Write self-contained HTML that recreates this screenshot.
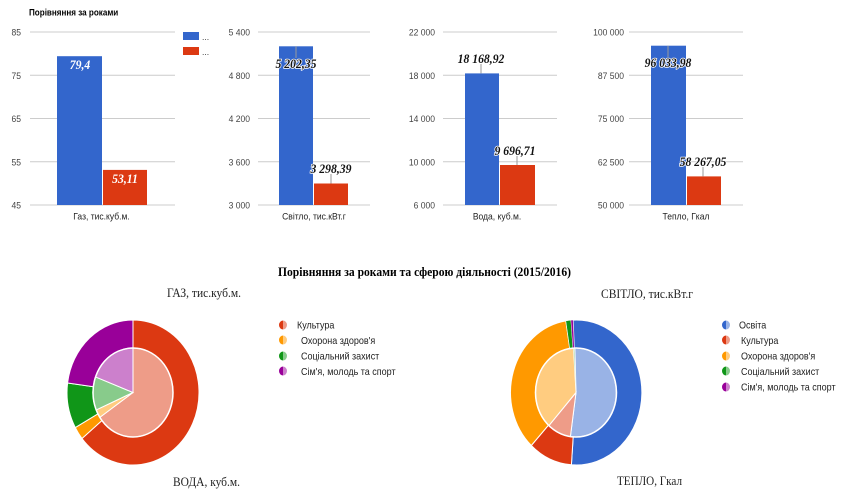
<!DOCTYPE html>
<html><head><meta charset="utf-8"><style>
html,body{margin:0;padding:0;background:#fff;}
svg{display:block;}
.ax{font-family:"Liberation Sans",Arial,sans-serif;font-size:9.5px;fill:#444;}
.xl{font-family:"Liberation Sans",Arial,sans-serif;font-size:9.5px;fill:#222;}
.dl{font-family:"Liberation Serif","Times New Roman",serif;font-size:13px;font-weight:bold;font-style:italic;}
.dk{fill:#111;stroke:#fff;stroke-width:1.6px;paint-order:stroke;}
.wh{fill:#fff;}
.lg{font-family:"Liberation Sans",Arial,sans-serif;font-size:10px;fill:#222;}
.tt{font-family:"Liberation Serif","Times New Roman",serif;fill:#222;}
</style></head><body>
<svg width="848" height="500" viewBox="0 0 848 500" xmlns="http://www.w3.org/2000/svg">
<rect width="848" height="500" fill="#fff"/>

<text transform="translate(29,15.5) scale(0.9,1)" style="font-family:'Liberation Sans',Arial,sans-serif;font-size:9px;font-weight:bold;fill:#000">Порівняння за роками</text>

<rect x="183" y="32" width="16" height="8" fill="#3366cc"/>
<rect x="183" y="47" width="16" height="8" fill="#dc3912"/>
<text class="ax" transform="translate(202,40) scale(0.9,1)">...</text>
<text class="ax" transform="translate(202,55) scale(0.9,1)">...</text>

<g stroke="#cccccc" stroke-width="1">
<line x1="30" x2="175" y1="32" y2="32"/><line x1="30" x2="175" y1="75.25" y2="75.25"/><line x1="30" x2="175" y1="118.5" y2="118.5"/><line x1="30" x2="175" y1="161.75" y2="161.75"/><line x1="30" x2="175" y1="205" y2="205"/>
<line x1="258" x2="370" y1="32" y2="32"/><line x1="258" x2="370" y1="75.25" y2="75.25"/><line x1="258" x2="370" y1="118.5" y2="118.5"/><line x1="258" x2="370" y1="161.75" y2="161.75"/><line x1="258" x2="370" y1="205" y2="205"/>
<line x1="443" x2="557" y1="32" y2="32"/><line x1="443" x2="557" y1="75.25" y2="75.25"/><line x1="443" x2="557" y1="118.5" y2="118.5"/><line x1="443" x2="557" y1="161.75" y2="161.75"/><line x1="443" x2="557" y1="205" y2="205"/>
<line x1="629" x2="743" y1="32" y2="32"/><line x1="629" x2="743" y1="75.25" y2="75.25"/><line x1="629" x2="743" y1="118.5" y2="118.5"/><line x1="629" x2="743" y1="161.75" y2="161.75"/><line x1="629" x2="743" y1="205" y2="205"/>
</g>

<g class="ax" text-anchor="end">
<text transform="translate(21,35.5) scale(0.9,1)">85</text>
<text transform="translate(21,78.75) scale(0.9,1)">75</text>
<text transform="translate(21,122) scale(0.9,1)">65</text>
<text transform="translate(21,165.25) scale(0.9,1)">55</text>
<text transform="translate(21,208.5) scale(0.9,1)">45</text>
<text transform="translate(250,35.5) scale(0.9,1)">5 400</text>
<text transform="translate(250,78.75) scale(0.9,1)">4 800</text>
<text transform="translate(250,122) scale(0.9,1)">4 200</text>
<text transform="translate(250,165.25) scale(0.9,1)">3 600</text>
<text transform="translate(250,208.5) scale(0.9,1)">3 000</text>
<text transform="translate(435,35.5) scale(0.9,1)">22 000</text>
<text transform="translate(435,78.75) scale(0.9,1)">18 000</text>
<text transform="translate(435,122) scale(0.9,1)">14 000</text>
<text transform="translate(435,165.25) scale(0.9,1)">10 000</text>
<text transform="translate(435,208.5) scale(0.9,1)">6 000</text>
<text transform="translate(624,35.5) scale(0.9,1)">100 000</text>
<text transform="translate(624,78.75) scale(0.9,1)">87 500</text>
<text transform="translate(624,122) scale(0.9,1)">75 000</text>
<text transform="translate(624,165.25) scale(0.9,1)">62 500</text>
<text transform="translate(624,208.5) scale(0.9,1)">50 000</text>
</g>

<rect x="57" y="56.2" width="45" height="148.8" fill="#3366cc"/>
<rect x="103" y="169.9" width="44" height="35.1" fill="#dc3912"/>
<rect x="279" y="46.3" width="34" height="158.7" fill="#3366cc"/>
<rect x="314" y="183.5" width="34" height="21.5" fill="#dc3912"/>
<rect x="465" y="73.4" width="34" height="131.6" fill="#3366cc"/>
<rect x="500" y="165" width="35" height="40" fill="#dc3912"/>
<rect x="651" y="45.7" width="35" height="159.3" fill="#3366cc"/>
<rect x="687" y="176.4" width="34" height="28.6" fill="#dc3912"/>

<g stroke="#9a9a9a" stroke-width="1">
<line x1="296" x2="296" y1="46.3" y2="58"/>
<line x1="331" x2="331" y1="183.5" y2="174"/>
<line x1="481" x2="481" y1="73.4" y2="64"/>
<line x1="517" x2="517" y1="165" y2="156"/>
<line x1="668" x2="668" y1="45.7" y2="57"/>
<line x1="703" x2="703" y1="176.4" y2="167"/>
</g>

<g class="dl" text-anchor="middle">
<text class="wh" transform="translate(80,69) scale(0.9,1)">79,4</text>
<text class="wh" transform="translate(125,183) scale(0.9,1)">53,11</text>
<text class="dk" transform="translate(296,68) scale(0.9,1)">5 202,35</text>
<text class="dk" transform="translate(331,173) scale(0.9,1)">3 298,39</text>
<text class="dk" transform="translate(481,63) scale(0.9,1)">18 168,92</text>
<text class="dk" transform="translate(515,155) scale(0.9,1)">9 696,71</text>
<text class="dk" transform="translate(668,67) scale(0.9,1)">96 033,98</text>
<text class="dk" transform="translate(703,166) scale(0.9,1)">58 267,05</text>
</g>

<g class="xl" text-anchor="middle">
<text transform="translate(101.5,219.5) scale(0.9,1)">Газ, тис.куб.м.</text>
<text transform="translate(314,219.5) scale(0.9,1)">Світло, тис.кВт.г</text>
<text transform="translate(497,219.5) scale(0.9,1)">Вода, куб.м.</text>
<text transform="translate(686,219.5) scale(0.9,1)">Тепло, Гкал</text>
</g>

<text class="tt" x="424.5" y="276" text-anchor="middle" textLength="293" lengthAdjust="spacingAndGlyphs" style="font-size:13px;font-weight:bold;fill:#000">Порівняння за роками та сферою діяльності (2015/2016)</text>

<text class="tt" x="204" y="297" text-anchor="middle" textLength="74" lengthAdjust="spacingAndGlyphs" style="font-size:13px">ГАЗ, тис.куб.м.</text>
<text class="tt" x="206.5" y="486" text-anchor="middle" textLength="67" lengthAdjust="spacingAndGlyphs" style="font-size:13px">ВОДА, куб.м.</text>
<text class="tt" x="647" y="298" text-anchor="middle" textLength="92" lengthAdjust="spacingAndGlyphs" style="font-size:13px">СВІТЛО, тис.кВт.г</text>
<text class="tt" x="649.5" y="485" text-anchor="middle" textLength="65" lengthAdjust="spacingAndGlyphs" style="font-size:13px">ТЕПЛО, Гкал</text>

<g stroke="#fff" stroke-width="1">
<path d="M133,392.5 L133,320 A66,72.5 0 1 1 82.0,438.5 Z" fill="#dc3912"/>
<path d="M133,392.5 L82.0,438.5 A66,72.5 0 0 1 75.3,427.6 Z" fill="#ff9900"/>
<path d="M133,392.5 L75.3,427.6 A66,72.5 0 0 1 67.6,383.0 Z" fill="#109618"/>
<path d="M133,392.5 L67.6,383.0 A66,72.5 0 0 1 133,320 Z" fill="#990099"/>
<path d="M133,392.5 L133,348 A40,44.5 0 1 1 99.8,417.4 Z" fill="#ee9c88"/>
<path d="M133,392.5 L99.8,417.4 A40,44.5 0 0 1 96.2,409.9 Z" fill="#ffcc80"/>
<path d="M133,392.5 L96.2,409.9 A40,44.5 0 0 1 95.5,376.9 Z" fill="#88cb8b"/>
<path d="M133,392.5 L95.5,376.9 A40,44.5 0 0 1 133,348 Z" fill="#cc80cc"/>
</g>
<ellipse cx="133" cy="392.5" rx="40" ry="44.5" fill="none" stroke="#fff" stroke-width="1.5"/>

<g stroke="#fff" stroke-width="1">
<path d="M576,392.5 L573.1,320.1 A65.5,72.5 0 1 1 571.4,464.8 Z" fill="#3366cc"/>
<path d="M576,392.5 L571.4,464.8 A65.5,72.5 0 0 1 531.3,445.5 Z" fill="#dc3912"/>
<path d="M576,392.5 L531.3,445.5 A65.5,72.5 0 0 1 565.8,320.9 Z" fill="#ff9900"/>
<path d="M576,392.5 L565.8,320.9 A65.5,72.5 0 0 1 570.9,320.2 Z" fill="#109618" stroke-width="0.5"/>
<path d="M576,392.5 L570.9,320.2 A65.5,72.5 0 0 1 573.1,320.1 Z" fill="#990099" stroke-width="0.3"/>
<path d="M576,392.5 L574.9,348 A40.5,44.5 0 1 1 570.4,436.6 Z" fill="#99b3e6"/>
<path d="M576,392.5 L570.4,436.6 A40.5,44.5 0 0 1 548.9,425.6 Z" fill="#ee9c88"/>
<path d="M576,392.5 L548.9,425.6 A40.5,44.5 0 0 1 573.5,348.1 Z" fill="#ffcc80"/>
<path d="M576,392.5 L573.5,348.1 A40.5,44.5 0 0 1 574.4,348 Z" fill="#88cb8b" stroke-width="0.3"/>
</g>
<ellipse cx="576" cy="392.5" rx="40.5" ry="44.5" fill="none" stroke="#fff" stroke-width="1.5"/>

<path d="M283,320.5 A4,4.5 0 0 0 283,329.5 Z" fill="#dc3912"/><path d="M283,320.5 A4,4.5 0 0 1 283,329.5 Z" fill="#ee9c88"/>
<path d="M283,335.5 A4,4.5 0 0 0 283,344.5 Z" fill="#ff9900"/><path d="M283,335.5 A4,4.5 0 0 1 283,344.5 Z" fill="#ffcc80"/>
<path d="M283,351.5 A4,4.5 0 0 0 283,360.5 Z" fill="#109618"/><path d="M283,351.5 A4,4.5 0 0 1 283,360.5 Z" fill="#88cb8b"/>
<path d="M283,366.5 A4,4.5 0 0 0 283,375.5 Z" fill="#990099"/><path d="M283,366.5 A4,4.5 0 0 1 283,375.5 Z" fill="#cc80cc"/>
<g class="lg">
<text transform="translate(297,328.5) scale(0.9,1)">Культура</text>
<text transform="translate(301,344) scale(0.9,1)">Охорона здоров'я</text>
<text transform="translate(301,359.5) scale(0.9,1)">Соціальний захист</text>
<text transform="translate(301,375) scale(0.9,1)">Сім'я, молодь та спорт</text>
</g>

<path d="M726,320.5 A4,4.5 0 0 0 726,329.5 Z" fill="#3366cc"/><path d="M726,320.5 A4,4.5 0 0 1 726,329.5 Z" fill="#99b3e6"/>
<path d="M726,335.5 A4,4.5 0 0 0 726,344.5 Z" fill="#dc3912"/><path d="M726,335.5 A4,4.5 0 0 1 726,344.5 Z" fill="#ee9c88"/>
<path d="M726,351.5 A4,4.5 0 0 0 726,360.5 Z" fill="#ff9900"/><path d="M726,351.5 A4,4.5 0 0 1 726,360.5 Z" fill="#ffcc80"/>
<path d="M726,366.5 A4,4.5 0 0 0 726,375.5 Z" fill="#109618"/><path d="M726,366.5 A4,4.5 0 0 1 726,375.5 Z" fill="#88cb8b"/>
<path d="M726,382.5 A4,4.5 0 0 0 726,391.5 Z" fill="#990099"/><path d="M726,382.5 A4,4.5 0 0 1 726,391.5 Z" fill="#cc80cc"/>
<g class="lg">
<text transform="translate(739,328.5) scale(0.9,1)">Освіта</text>
<text transform="translate(741,344) scale(0.9,1)">Культура</text>
<text transform="translate(741,359.5) scale(0.9,1)">Охорона здоров'я</text>
<text transform="translate(741,375) scale(0.9,1)">Соціальний захист</text>
<text transform="translate(741,390.5) scale(0.9,1)">Сім'я, молодь та спорт</text>
</g>
</svg>
</body></html>
